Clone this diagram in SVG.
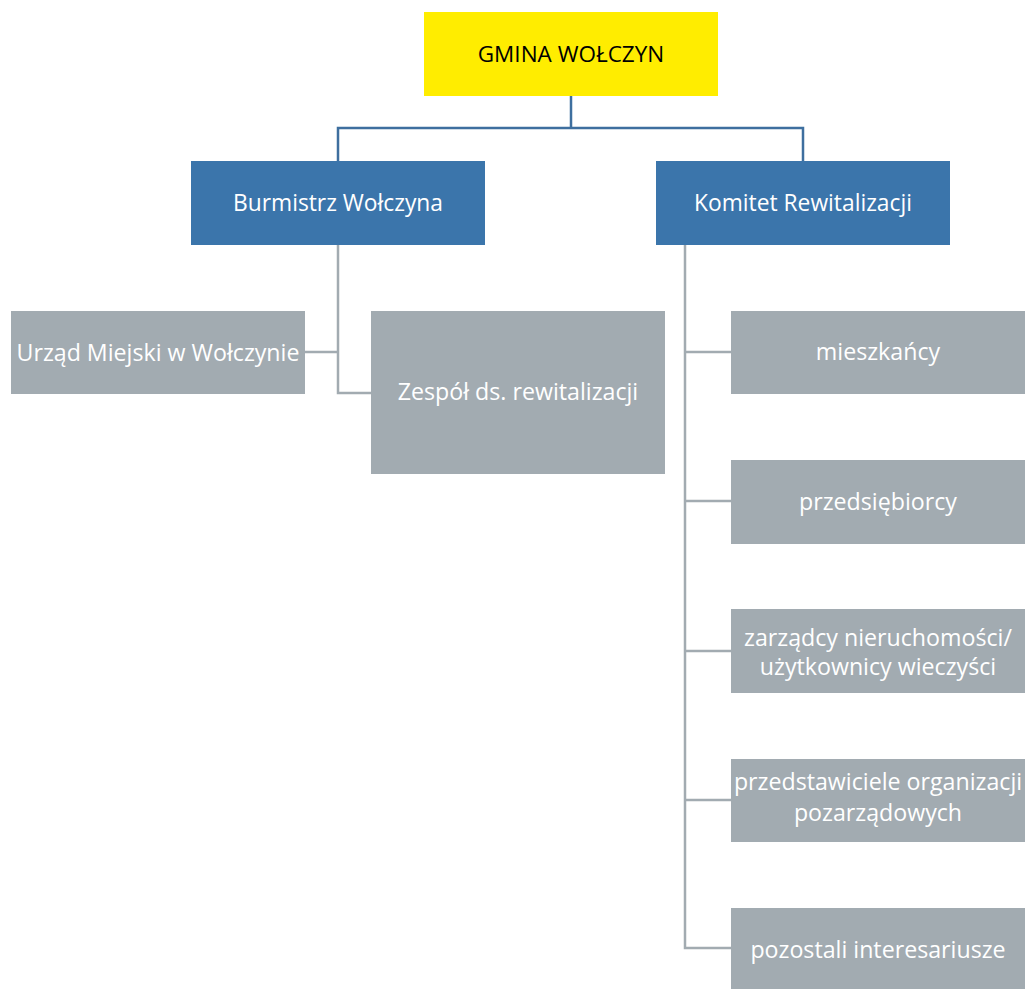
<svg xmlns="http://www.w3.org/2000/svg" width="1025" height="989" viewBox="0 0 1025 989">
<style>
.y{fill:#FFED00}
.b{fill:#3B75AB}
.g{fill:#A2ABB1}
.tb{font-family:"Open Sans","Noto Sans",sans-serif;font-size:22.5px;fill:#000;text-anchor:middle}
.tw{font-family:"Open Sans","Noto Sans",sans-serif;font-size:22.8px;fill:#fff;text-anchor:middle}
.tg{font-family:"Open Sans","Noto Sans",sans-serif;font-size:23.2px;fill:#fff;text-anchor:middle}
.cb{fill:none;stroke:#3E6F9F;stroke-width:2.5}
.cg{fill:none;stroke:#A2ABB1;stroke-width:2.5}
</style>
<g id="connectors">
<path class="cb" d="M571 96V128M338 161V128H803V161"/>
<path class="cg" d="M338 245V393H371M305 352H338"/>
<path class="cg" d="M685 245V948H731M685 352H731M685 501H731M685 651H731M685 800H731"/>
</g>
<g id="gmina"><rect class="y" x="424" y="12" width="294" height="84"/><text class="tb" x="571" y="62">GMINA WOŁCZYN</text></g>
<g id="burmistrz"><rect class="b" x="191" y="161" width="294" height="84"/><text class="tw" x="338" y="211">Burmistrz Wołczyna</text></g>
<g id="komitet"><rect class="b" x="656" y="161" width="294" height="84"/><text class="tw" x="803" y="211">Komitet Rewitalizacji</text></g>
<g id="urzad"><rect class="g" x="11" y="311" width="294" height="83"/><text class="tg" x="158" y="361">Urząd Miejski w Wołczynie</text></g>
<g id="zespol"><rect class="g" x="371" y="311" width="294" height="163"/><text class="tg" x="518" y="400">Zespół ds. rewitalizacji</text></g>
<g id="mieszkancy"><rect class="g" x="731" y="311" width="294" height="83"/><text class="tg" x="878" y="360">mieszkańcy</text></g>
<g id="przedsiebiorcy"><rect class="g" x="731" y="460" width="294" height="84"/><text class="tg" x="878" y="510">przedsiębiorcy</text></g>
<g id="zarzadcy"><rect class="g" x="731" y="609" width="294" height="84"/><text class="tg" x="878" y="646">zarządcy nieruchomości/</text><text class="tg" x="878" y="675">użytkownicy wieczyści</text></g>
<g id="przedstawiciele"><rect class="g" x="731" y="759" width="294" height="83"/><text class="tg" x="878" y="790">przedstawiciele organizacji</text><text class="tg" x="878" y="821">pozarządowych</text></g>
<g id="pozostali"><rect class="g" x="731" y="908" width="294" height="83"/><text class="tg" x="878" y="958">pozostali interesariusze</text></g>
</svg>
